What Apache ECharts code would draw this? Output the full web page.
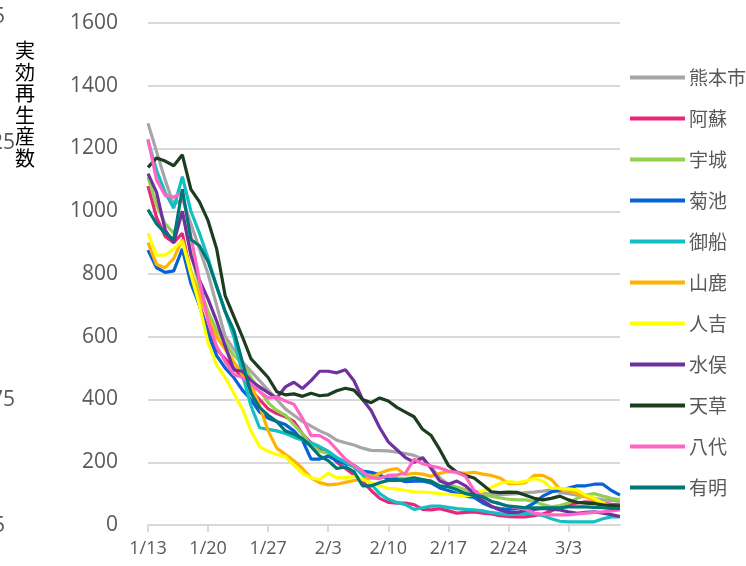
<!DOCTYPE html>
<html>
<head>
<meta charset="utf-8">
<script src="https://cdn.jsdelivr.net/npm/echarts@6/dist/echarts.min.js"></script>
<style>
  html, body { margin: 0; padding: 0; background: #fff; }
  #chart { width: 746px; height: 566px; }
</style>
</head>
<body>
<div id="chart"></div>
<script>
// dates 1/13 .. 3/9
const startDate = new Date(2021, 0, 13)
const dates = []
for (let i = 0; i < 56; i++) {
  const d = new Date(startDate.getTime() + i * 86400000)
  dates.push((d.getMonth() + 1) + '/' + d.getDate())
}

const yTicks = { min: 0, max: 1600, interval: 200 }

const kumamoto = [1280, 1190, 1100, 1020, 1040, 960, 880, 800, 700, 600, 560, 520, 490, 460, 430, 400, 370, 350, 330, 315, 300, 288, 270, 262, 255, 245, 238, 237, 236, 232, 228, 222, 210, 185, 150, 130, 120, 112, 108, 102, 98, 96, 98, 100, 103, 105, 108, 112, 104, 100, 95, 90, 85, 80, 78, 75]
const aso = [1080, 980, 920, 900, 930, 800, 700, 620, 560, 530, 500, 470, 430, 400, 370, 355, 345, 330, 290, 262, 245, 230, 200, 180, 160, 140, 110, 85, 72, 70, 70, 65, 50, 48, 52, 45, 38, 40, 42, 38, 35, 30, 27, 26, 26, 30, 35, 45, 58, 65, 70, 74, 72, 70, 66, 64]
const uki = [1110, 1020, 960, 930, 1000, 870, 760, 680, 620, 580, 540, 515, 470, 430, 390, 365, 350, 320, 290, 255, 235, 228, 215, 200, 185, 170, 160, 155, 152, 150, 148, 150, 143, 132, 122, 122, 120, 110, 102, 96, 92, 86, 82, 80, 80, 75, 65, 58, 62, 70, 85, 95, 100, 92, 85, 80]
const kikuchi = [876, 820, 805, 810, 880, 770, 700, 610, 540, 500, 470, 430, 400, 360, 340, 330, 320, 300, 270, 210, 210, 220, 205, 195, 190, 172, 168, 160, 145, 146, 138, 140, 140, 135, 118, 110, 100, 92, 88, 70, 58, 52, 50, 52, 55, 70, 92, 105, 112, 118, 125, 125, 130, 130, 110, 95]
const mifune = [1225, 1130, 1060, 1010, 1110, 1000, 930, 850, 760, 680, 600, 480, 380, 310, 305, 300, 292, 280, 270, 262, 250, 235, 215, 200, 185, 160, 130, 100, 82, 72, 65, 50, 55, 60, 60, 56, 52, 50, 48, 45, 40, 36, 33, 34, 37, 36, 30, 20, 12, 10, 10, 10, 10, 20, 26, 26]
const yamaga = [900, 830, 820, 850, 910, 810, 730, 660, 600, 560, 520, 480, 450, 380, 300, 245, 225, 205, 180, 150, 135, 128, 130, 136, 142, 145, 150, 165, 175, 180, 160, 165, 162, 155, 165, 170, 168, 165, 168, 162, 158, 150, 132, 132, 135, 158, 158, 145, 115, 110, 100, 90, 80, 65, 56, 53]
const hitoyoshi = [930, 860, 860, 880, 905, 800, 700, 580, 510, 470, 420, 370, 300, 250, 235, 225, 218, 190, 165, 150, 145, 165, 150, 150, 155, 145, 135, 125, 117, 115, 110, 106, 105, 103, 100, 98, 95, 92, 98, 108, 120, 133, 138, 135, 140, 148, 140, 118, 117, 115, 112, 95, 85, 70, 60, 55]
const minamata = [1120, 1060, 940, 900, 1000, 860, 780, 720, 650, 570, 494, 490, 460, 440, 422, 405, 440, 455, 435, 460, 490, 490, 485, 495, 460, 400, 365, 310, 265, 240, 215, 200, 215, 180, 140, 130, 140, 125, 100, 78, 60, 48, 40, 40, 47, 50, 53, 50, 48, 42, 37, 40, 42, 38, 33, 27]
const amakusa = [1140, 1170, 1160, 1145, 1180, 1070, 1030, 970, 880, 730, 665, 600, 530, 500, 470, 425, 415, 418, 410, 420, 412, 415, 428, 436, 430, 400, 390, 405, 395, 375, 360, 345, 305, 285, 240, 190, 168, 158, 150, 128, 106, 103, 105, 104, 95, 85, 80, 85, 92, 80, 72, 70, 68, 64, 62, 60]
const yatsushiro = [1230, 1100, 1050, 1045, 1060, 920, 780, 650, 570, 520, 480, 470, 450, 425, 405, 408, 395, 385, 340, 285, 285, 270, 240, 210, 190, 170, 150, 148, 158, 160, 165, 210, 195, 188, 182, 172, 168, 155, 110, 90, 75, 68, 60, 55, 50, 38, 34, 32, 32, 32, 35, 38, 40, 42, 45, 48]
const ariake = [1005, 960, 930, 910, 1070, 910, 890, 840, 760, 680, 620, 520, 420, 375, 350, 330, 300, 290, 275, 250, 220, 205, 180, 185, 170, 125, 125, 135, 142, 142, 145, 150, 145, 140, 125, 122, 112, 100, 95, 90, 75, 68, 60, 58, 55, 55, 55, 55, 55, 58, 58, 58, 56, 55, 53, 53]

const seriesDefs = [
  { title: '熊本市', color: '#a6a6a6', data: kumamoto },
  { title: '阿蘇', color: '#e8277a', data: aso },
  { title: '宇城', color: '#92d050', data: uki },
  { title: '菊池', color: '#0563d6', data: kikuchi },
  { title: '御船', color: '#12bfc4', data: mifune },
  { title: '山鹿', color: '#ffb300', data: yamaga },
  { title: '人吉', color: '#ffff00', data: hitoyoshi },
  { title: '水俣', color: '#7030a0', data: minamata },
  { title: '天草', color: '#1d3d1f', data: amakusa },
  { title: '八代', color: '#ff66c4', data: yatsushiro },
  { title: '有明', color: '#007777', data: ariake }
]

const chart = echarts.init(document.getElementById('chart'))

const series = seriesDefs.map(s => ({
  name: s.title,
  type: 'line',
  data: s.data,
  symbol: 'none',
  smooth: false,
  lineStyle: { color: s.color, width: 3.2 },
  itemStyle: { color: s.color },
  animation: false
}))

const numFont = '"Open Sans", sans-serif'
const cjkFont = '"Noto Sans CJK JP", sans-serif'

chart.setOption({
  animation: false,
  grid: { left: 148, right: 126, top: 23, bottom: 41 },
  xAxis: {
    type: 'category',
    data: dates,
    boundaryGap: false,
    axisLine: { lineStyle: { color: '#d9d9d9', width: 2 } },
    axisTick: { interval: 6, length: 7, lineStyle: { color: '#d9d9d9', width: 2 } },
    axisLabel: { interval: 6, color: '#595959', fontSize: 18, fontFamily: numFont, margin: 15 },
    splitLine: { show: false }
  },
  yAxis: {
    type: 'value',
    min: yTicks.min,
    max: yTicks.max,
    interval: yTicks.interval,
    axisLine: { show: false },
    axisTick: { show: false },
    axisLabel: {
      color: '#595959',
      fontSize: 21,
      fontFamily: numFont,
      margin: 30,
      formatter: v => String(v)
    },
    splitLine: { lineStyle: { color: '#d9d9d9', width: 2 } }
  },
  legend: {
    orient: 'vertical',
    left: 625,
    top: 63,
    itemWidth: 55,
    itemHeight: 4,
    itemGap: 22,
    icon: 'rect',
    textStyle: { color: '#595959', fontSize: 19, fontFamily: cjkFont, lineHeight: 19, padding: [0, 0, 0, -1] },
    data: seriesDefs.map(s => s.title)
  },
  graphic: [
    {
      type: 'text',
      x: 25,
      y: 40,
      style: {
        text: '実\n効\n再\n生\n産\n数',
        font: '20px ' + cjkFont,
        fill: '#000',
        textAlign: 'center',
        lineHeight: 21.5
      }
    },
    { type: 'text', x: 5, y: 17, style: { text: '1.5', font: '21px ' + numFont, fill: '#595959', textAlign: 'right', textVerticalAlign: 'middle' } },
    { type: 'text', x: 15, y: 143, style: { text: '1.25', font: '21px ' + numFont, fill: '#595959', textAlign: 'right', textVerticalAlign: 'middle' } },
    { type: 'text', x: 15, y: 400, style: { text: '0.75', font: '21px ' + numFont, fill: '#595959', textAlign: 'right', textVerticalAlign: 'middle' } },
    { type: 'text', x: 5, y: 526, style: { text: '0.5', font: '21px ' + numFont, fill: '#595959', textAlign: 'right', textVerticalAlign: 'middle' } }
  ],
  series: series
})
</script>
</body>
</html>
